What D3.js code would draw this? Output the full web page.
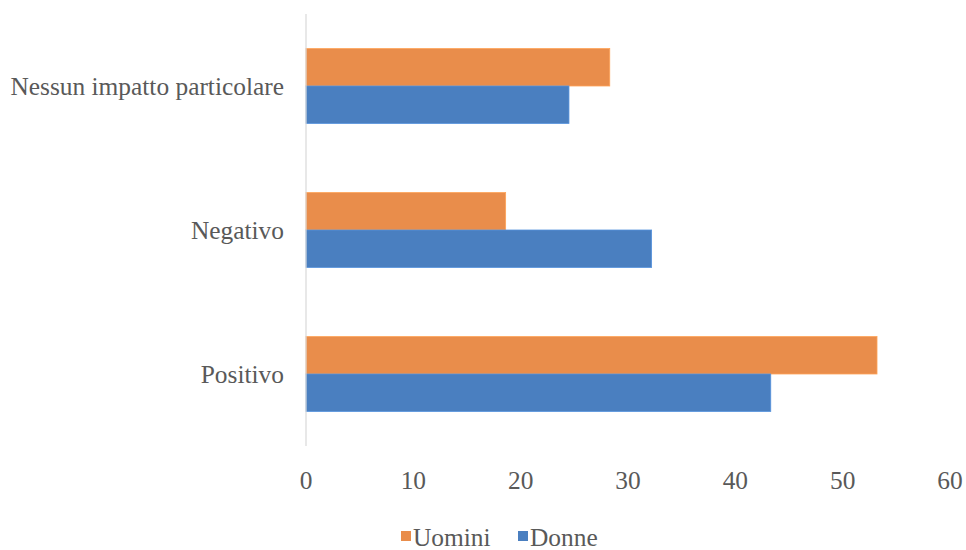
<!DOCTYPE html>
<html><head><meta charset="utf-8">
<script src="https://cdn.jsdelivr.net/npm/d3@7"></script>
<style>body{margin:0;background:#fff}svg{display:block}text{font-family:"Liberation Serif","Times New Roman",serif;fill:#595959}</style>
</head><body><svg id="c" width="966" height="550"></svg>
<script>
const categories = ["Nessun impatto particolare", "Negativo", "Positivo"];
const seriesNames = ["Uomini", "Donne"];
const uomini = [28.3, 18.6, 53.2];
const donne = [24.5, 32.2, 43.3];
const xTicks = [0, 10, 20, 30, 40, 50, 60];
const colors = {Uomini: "#E98D4B", Donne: "#4A7FC0"};

const svg = d3.select("#c");
const x = d3.scaleLinear().domain([0, 60]).range([306, 950]);
const y = d3.scaleBand().domain(categories).range([14, 446]).paddingInner(0.48).paddingOuter(0.24);
const ys = d3.scaleBand().domain(seriesNames).range([0, y.bandwidth()]);

const data = categories.map((c, i) => ({cat: c, Uomini: uomini[i], Donne: donne[i]}));

const g = svg.append("g");
data.forEach(d => {
  seriesNames.forEach(s => {
    g.append("rect")
      .attr("x", x(0))
      .attr("y", y(d.cat) + ys(s))
      .attr("width", x(d[s]) - x(0))
      .attr("height", ys.bandwidth())
      .attr("fill", colors[s])
      .attr("stroke", d3.color(colors[s]).brighter(0.4))
      .attr("stroke-width", 0.8);
  });
});

svg.append("line").attr("x1", x(0)).attr("x2", x(0)).attr("y1", 14).attr("y2", 446)
  .attr("stroke", "#d9d9d9").attr("stroke-width", 1.2);

svg.append("g").selectAll("text").data(xTicks).join("text")
  .attr("x", d => x(d)).attr("y", 489).attr("text-anchor", "middle")
  .attr("font-size", 25.4).text(d => d);

svg.append("g").selectAll("text").data(categories).join("text")
  .attr("x", 284).attr("y", d => y(d) + y.bandwidth() / 2 + 9).attr("text-anchor", "end")
  .attr("font-size", 25.4).text(d => d);

const leg = svg.append("g");
const legItems = [{n: "Uomini", x: 401}, {n: "Donne", x: 518}];
legItems.forEach(l => {
  leg.append("rect").attr("x", l.x).attr("y", 531).attr("width", 10).attr("height", 10).attr("fill", colors[l.n]);
  leg.append("text").attr("x", l.x + 12).attr("y", 546).attr("font-size", 25.4).text(l.n);
});
</script></body></html>
